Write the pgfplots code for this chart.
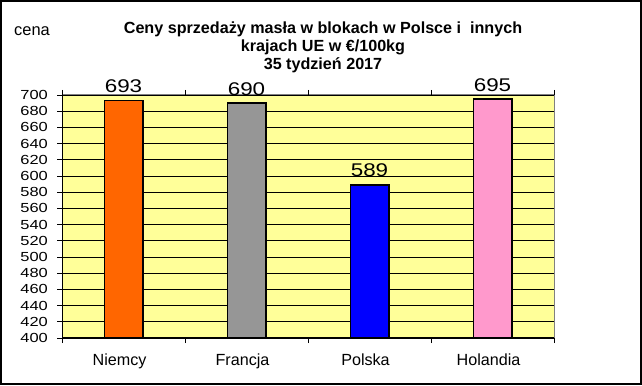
\documentclass[border=0pt]{standalone}
\usepackage{pgfplots}
\pgfplotsset{compat=1.18}
\usepackage{fontspec}
\setmainfont{Liberation Sans}
\usepackage{graphicx}
\definecolor{plotbg}{HTML}{FFFF99}
\definecolor{cOrange}{HTML}{FF6600}
\definecolor{cGray}{HTML}{969696}
\definecolor{cBlue}{HTML}{0000FF}
\definecolor{cPink}{HTML}{FF99CC}
\definecolor{frameGray}{HTML}{808080}
\begin{document}
\begin{tikzpicture}[x=1bp,y=1bp]
\useasboundingbox (0,0) rectangle (642,385);
\draw[line width=2bp,black] (1,1) rectangle (641,384);
\node[anchor=base west,inner sep=0pt,font=\fontsize{16.5}{18}\selectfont] at (14,349.3) {cena};
\node[anchor=base,inner sep=0pt,font=\fontsize{16.2}{18}\selectfont\bfseries] at (323,352) {Ceny sprzedaży masła w blokach w Polsce i\ \ innych};
\node[anchor=base,inner sep=0pt,font=\fontsize{16.2}{18}\selectfont\bfseries] at (323,334) {krajach UE w €/100kg};
\node[anchor=base,inner sep=0pt,font=\fontsize{16.2}{18}\selectfont\bfseries] at (323,315.5) {35 tydzień 2017};
\begin{axis}[
  at={(62bp,47bp)}, anchor=south west,
  scale only axis, width=492bp, height=243bp,
  xmin=-0.5, xmax=3.5, ymin=400, ymax=700,
  clip=false,
  axis background/.style={fill=plotbg},
  axis line style={draw=frameGray, line width=1bp},
  /pgf/number format/assume math mode=true,
  ytick={400,420,...,700},
  ymajorgrids, major grid style={black, line width=0.9bp},
  ytick pos=left, tick align=outside, major tick length=5bp,
  ytick style={black, line width=0.9bp},
  yticklabel style={anchor=east, inner sep=0pt, xshift=-9bp},
  yticklabel={\scalebox{1}[0.8]{\fontsize{16.5}{18}\selectfont\pgfmathprintnumber{\tick}}},
  xtick={0,1,2,3},
  xticklabels={Niemcy,Francja,Polska,Holandia},
  xtick style={draw=none},
  xticklabel style={anchor=base, inner sep=0pt, yshift=-22.7bp, xshift=-4bp, font=\fontsize{16.2}{18}\selectfont},
  extra x ticks={-0.5,0.5,1.5,2.5,3.5},
  extra x tick labels={},
  extra x tick style={tick align=outside, major tick length=5bp, xtick style={draw=black, line width=0.9bp}, grid=none},
  ybar, bar width=38.5bp, bar shift=0pt,
  nodes near coords={\scalebox{1}[0.82]{\fontsize{22.5}{24}\selectfont\pgfmathprintnumber{\pgfplotspointmeta}}},
  every node near coord/.append style={anchor=south, inner sep=0pt, yshift=7bp, black},
]
\addplot[fill=cOrange, draw=black, line width=1.5bp] coordinates {(0,693)};
\addplot[fill=cGray, draw=black, line width=1.5bp] coordinates {(1,690)};
\addplot[fill=cBlue, draw=black, line width=1.5bp] coordinates {(2,589)};
\addplot[fill=cPink, draw=black, line width=1.5bp] coordinates {(3,695)};
\draw[black, line width=1bp] (rel axis cs:0,0) -- (rel axis cs:0,1);
\draw[black, line width=1.2bp] (rel axis cs:0,0) -- (rel axis cs:1,0);
\end{axis}
\end{tikzpicture}
\end{document}
